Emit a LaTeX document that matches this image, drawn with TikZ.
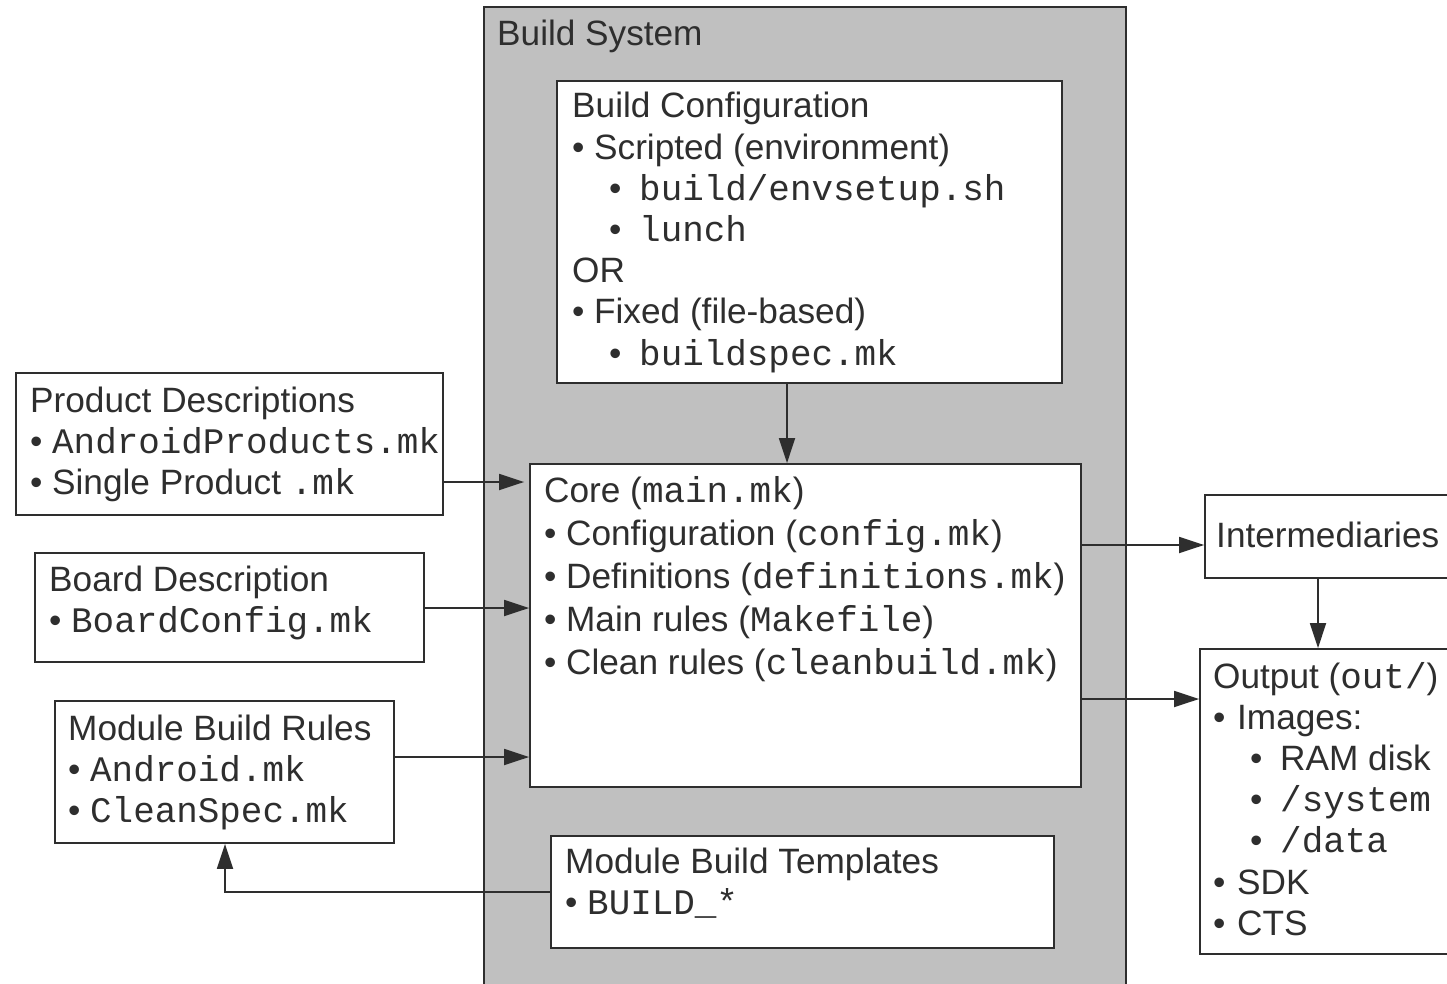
\documentclass[tikz,border=0pt]{standalone}
\usepackage{fontspec}
\setmainfont{Liberation Sans}
\setmonofont[Scale=1.02]{Liberation Mono}
\usetikzlibrary{arrows.meta,fit}
\definecolor{ink}{HTML}{2E2E2E}
\definecolor{sysgray}{HTML}{C0C0C0}
\newcommand\itm{\makebox[22pt][l]{•}}
\newcommand\sitm{\hspace*{37pt}\makebox[30pt][l]{•}}
\newcommand\tx[1]{{\ttfamily #1}}
\begin{document}
\begin{tikzpicture}[x=1pt,y=-1pt,
  box/.style={draw=ink, line width=1.8pt, fill=white, inner sep=0pt},
  txt/.style={anchor=base west, inner sep=0pt, text=ink, font=\fontsize{35.2}{41.2}\selectfont},
  arr/.style={draw=ink, line width=1.8pt, -{Triangle[length=25pt,width=16pt]}}]
\useasboundingbox (0,0) rectangle (1447,984);
\fill[white] (0,0) rectangle (1447,984);
% build system
\node[box, fill=sysgray, fit={(484,7) (1126,1010)}] (sys) {};
\node[txt] (systitle) at (497,46) {Build System};
% build configuration
\node[box, fit={(557,81) (1062,383)}] (cfg) {};
\node[txt] (cfgt) at (572,118) {\begin{tabular}[t]{@{}l@{}}Build Configuration\\
\itm Scripted (environment)\\
\sitm\tx{build/envsetup.sh}\\
\sitm\tx{lunch}\\
OR\\
\itm Fixed (file-based)\\
\sitm\tx{buildspec.mk}\end{tabular}};
% core
\node[box, fit={(530,464) (1081,787)}] (core) {};
\node[txt, font=\fontsize{35.2}{43}\selectfont] (coret) at (544,502) {\begin{tabular}[t]{@{}l@{}}Core (\tx{main.mk})\\
\itm Configuration (\tx{config.mk})\\
\itm Definitions (\tx{definitions.mk})\\
\itm Main rules (\tx{Makefile})\\
\itm Clean rules (\tx{cleanbuild.mk})\end{tabular}};
% templates
\node[box, fit={(551,836) (1054,948)}] (tmpl) {};
\node[txt] (tmplt) at (565,873) {\begin{tabular}[t]{@{}l@{}}Module Build Templates\\
\itm\tx{BUILD\_*}\end{tabular}};
% left boxes
\node[box, fit={(16,373) (443,515)}] (prod) {};
\node[txt] (prodt) at (30,412) {\begin{tabular}[t]{@{}l@{}}Product Descriptions\\
\itm\tx{AndroidProducts.mk}\\
\itm Single Product \tx{.mk}\end{tabular}};
\node[box, fit={(35,553) (424,662)}] (board) {};
\node[txt] (boardt) at (49,591) {\begin{tabular}[t]{@{}l@{}}Board Description\\
\itm\tx{BoardConfig.mk}\end{tabular}};
\node[box, fit={(55,701) (394,843)}] (rules) {};
\node[txt] (rulest) at (68,740) {\begin{tabular}[t]{@{}l@{}}Module Build Rules\\
\itm\tx{Android.mk}\\
\itm\tx{CleanSpec.mk}\end{tabular}};
% right boxes
\node[box, fit={(1205,495) (1475,578)}] (inter) {};
\node[txt] (intert) at (1216,547) {Intermediaries};
\node[box, fit={(1200,649) (1475,954)}] (out) {};
\node[txt] (outt) at (1213,688) {\begin{tabular}[t]{@{}l@{}}Output (\tx{out/})\\
\makebox[24pt][l]{•}Images:\\
\sitm RAM disk\\
\sitm\tx{/system}\\
\sitm\tx{/data}\\
\makebox[24pt][l]{•}SDK\\
\makebox[24pt][l]{•}CTS\end{tabular}};
% connectors
\draw[arr] (cfg.south -| 787,0) -- (core.north -| 787,0);
\draw[arr, shorten >=5pt] (prod.east |- 0,482) -- (core.west |- 0,482);
\draw[arr] (board.east |- 0,608) -- (core.west |- 0,608);
\draw[arr] (rules.east |- 0,757) -- (core.west |- 0,757);
\draw[arr] (core.east |- 0,545) -- (inter.west |- 0,545);
\draw[arr] (core.east |- 0,699) -- (out.west |- 0,699);
\draw[arr] (inter.south -| 1318,0) -- (out.north -| 1318,0);
\draw[arr] (tmpl.west |- 0,892) -| (rules.south -| 225,0);
\end{tikzpicture}
\end{document}
